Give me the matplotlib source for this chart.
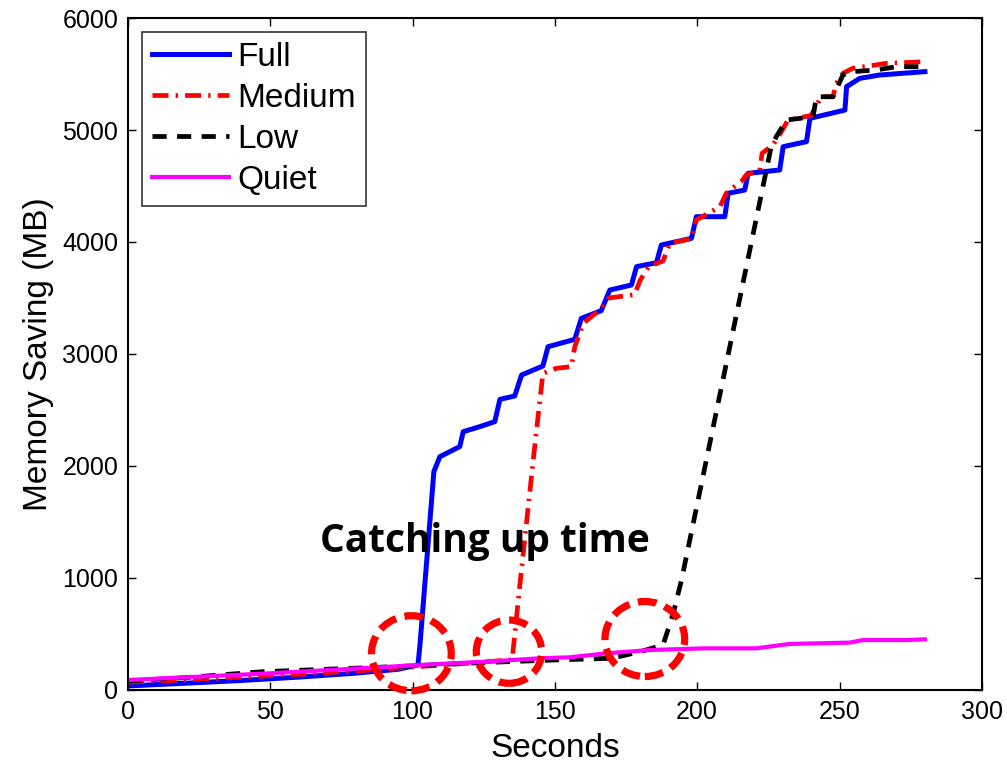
import matplotlib.pyplot as plt
from matplotlib.patches import Ellipse

# Full
full_x = [0, 20, 40, 60, 80, 95, 101.9, 102.6, 107.5, 109.6, 116.6, 117.8, 123.6, 128.9, 130.7,
          135.9, 138.3, 145.8, 147.6, 157, 159.3, 166.3, 169.3, 176.9, 178.7, 185.7, 187.4,
          198, 199.7, 209.7, 210.9, 216.7, 217.9, 229, 230.2, 238.4, 239.6, 251.9, 252.5,
          257.1, 264.1, 280]
full_y = [36, 60, 85, 115, 150, 185, 223, 400, 1950, 2083, 2173, 2306, 2351, 2396, 2595,
          2625, 2812, 2893, 3065, 3131, 3318, 3387, 3571, 3616, 3780, 3815, 3973,
          4033, 4226, 4226, 4435, 4464, 4613, 4643, 4851, 4896, 5104, 5178, 5387,
          5461, 5491, 5521]

# Medium
med_x = [0, 20, 40, 60, 80, 100, 120, 135, 137.7, 142.4, 145.8, 150.5, 155.8, 157, 160,
         166, 169, 178, 180, 183, 188, 190.4, 198, 199.7, 208, 210.2, 216, 217.2, 222,
         222.8, 226.6, 229.6, 231.9, 240, 241.5, 243.6, 247.7, 248.9, 251.2, 254.7, 266.4, 280]
med_y = [70, 90, 115, 140, 170, 205, 240, 270, 937, 2054, 2827, 2872, 2887, 3065, 3274,
         3400, 3500, 3530, 3660, 3780, 3830, 3988, 4030, 4196, 4315, 4435, 4553, 4598, 4640,
         4792, 4866, 4985, 5089, 5130, 5200, 5297, 5297, 5416, 5506, 5551, 5595, 5610]

# Low
low_x = [0, 20, 47, 80, 100, 120, 150, 170, 180, 188, 191.6, 194.5, 226, 228, 231.4,
         240.7, 241.9, 247.7, 251.2, 254.7, 262.9, 270, 280]
low_y = [80, 110, 163, 195, 215, 240, 268, 283, 342, 402, 685, 982, 4851, 4950, 5089,
         5119, 5297, 5297, 5491, 5521, 5536, 5565, 5565]

# Quiet
quiet_x = [0, 50, 102.6, 126, 144.7, 155.3, 168, 183.4, 203, 220.8, 232.5, 253.6, 258.3, 273.5, 280]
quiet_y = [89, 149, 223, 253, 283, 292, 327, 357, 372, 372, 411, 423, 446, 446, 452]

# catching-up markers (center x, center y, width, height)
circle_x = [99.6, 133.9, 181.6]
circle_y = [328, 342, 455]
circle_w = [28, 23, 28]
circle_h = [670, 565, 670]

plt.rcParams['font.family'] = ['Liberation Sans', 'DejaVu Sans']

fig = plt.figure(figsize=(10.07, 7.63), dpi=100)
ax = fig.add_axes([0.127, 0.0957, 0.848, 0.8807])

ax.plot(full_x, full_y, color='#0000ff', lw=3.6, label='Full')
ax.plot(med_x, med_y, color='#ff0000', lw=3.4, linestyle=(0, (3.4, 1.5, 0.5, 1.5)), label='Medium')
ax.plot(low_x, low_y, color='black', lw=3.4, linestyle=(0, (3.0, 2.2)), label='Low')
ax.plot(quiet_x, quiet_y, color='#ff00ff', lw=3, label='Quiet')

for cx, cy, w, h in zip(circle_x, circle_y, circle_w, circle_h):
    ax.add_patch(Ellipse((cx, cy), w, h, fill=False, edgecolor='#ff0000', lw=5.2,
                         linestyle=(0, (2.6, 1.2)), clip_on=False, zorder=5))

ax.text(125.4, 1330, 'Catching up time', fontsize=28, fontweight='bold',
        family=['Open Sans', 'DejaVu Sans'], ha='center', va='center')

ax.set_xlim(0, 300)
ax.set_ylim(0, 6000)
ax.set_xticks(range(0, 301, 50))
ax.set_yticks(range(0, 6001, 1000))
ax.tick_params(direction='in', top=True, right=True, labelsize=18, length=6, width=1, pad=7)
for s in ax.spines.values():
    s.set_linewidth(1.5)
ax.set_xlabel('Seconds', fontsize=24, labelpad=7)
ax.set_ylabel('Memory Saving (MB)', fontsize=24, labelpad=6)

leg = ax.legend(loc='upper left', fontsize=24, frameon=True, fancybox=False,
                handlelength=2.3, handletextpad=0.27, borderpad=0.3, labelspacing=0.3,
                borderaxespad=0.42)
leg.get_frame().set_edgecolor('black')
leg.get_frame().set_linewidth(1.2)

fig.savefig('out.png', dpi=100)
